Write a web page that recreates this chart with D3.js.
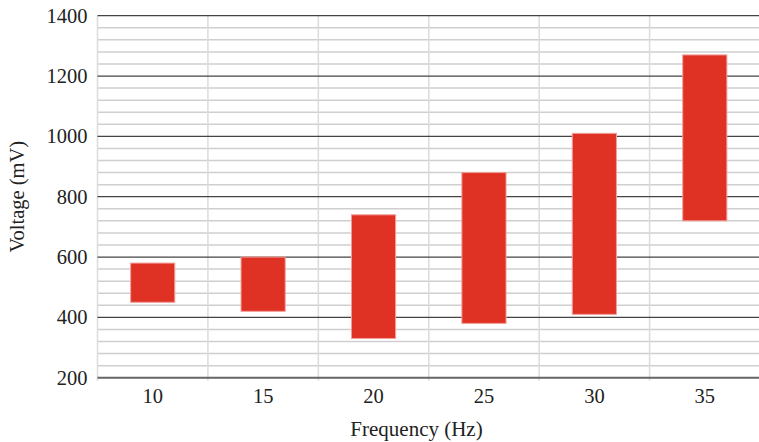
<!DOCTYPE html>
<html><head><meta charset="utf-8">
<script src="https://cdn.jsdelivr.net/npm/d3@7"></script>
<style>body{margin:0;background:#fff}svg{display:block}text{font-family:"Liberation Serif","Times New Roman",serif;fill:#222}</style>
</head><body>
<svg id="c" width="759" height="442" font-family="Liberation Serif"></svg>
<script>
const categories = ["10","15","20","25","30","35"];
const lowValues  = [450, 420, 330, 380, 410, 720];
const highValues = [580, 600, 740, 880, 1010, 1270];
const yTicks = [200,400,600,800,1000,1200,1400];

const W=759,H=442, m={l:97.5,r:-1,t:15.7,b:64.3};
const svg=d3.select("#c");
const x=d3.scaleBand().domain(categories).range([m.l,W-m.r]).paddingInner(0).paddingOuter(0);
const y=d3.scaleLinear().domain([200,1400]).range([H-m.b,m.t]);

// minor grid
const minor=d3.range(200,1401,40).filter(v=>v%200!==0);
svg.append("g").selectAll("line").data(minor).join("line")
 .attr("x1",m.l).attr("x2",W-m.r).attr("y1",d=>y(d)).attr("y2",d=>y(d))
 .attr("stroke","#cfcfcf").attr("stroke-width",1.5);
// vertical grid
const bounds=categories.map(c=>x(c)).concat([x(categories[categories.length-1])+x.bandwidth()]);
svg.append("g").selectAll("line").data(bounds).join("line")
 .attr("x1",d=>d).attr("x2",d=>d).attr("y1",y(1400)).attr("y2",y(200)+3)
 .attr("stroke","#dcdcdc").attr("stroke-width",1.5);
// major grid
svg.append("g").selectAll("line").data(yTicks).join("line")
 .attr("x1",m.l).attr("x2",W-m.r).attr("y1",d=>y(d)).attr("y2",d=>y(d))
 .attr("stroke",d=>d===200?"#666":"#444").attr("stroke-width",d=>d===200?2:1.3);

// bars
const bw=x.bandwidth()*0.4;
svg.append("g").selectAll("rect").data(categories).join("rect")
 .attr("x",(d)=>x(d)+x.bandwidth()/2-bw/2).attr("width",bw)
 .attr("y",(d,i)=>y(highValues[i])).attr("height",(d,i)=>y(lowValues[i])-y(highValues[i]))
 .attr("fill","#e03224").attr("stroke","#f2a09a").attr("stroke-width",1);

const FF='"Liberation Serif","Times New Roman",serif';
// y axis labels
const yAxis=d3.axisLeft(y).tickValues(yTicks).tickSize(0).tickPadding(10).tickFormat(d3.format("d"));
const ga=svg.append("g").attr("transform",`translate(${m.l},0)`).call(yAxis).attr("font-family",FF);
ga.select(".domain").remove();
ga.selectAll("text").style("font-size","20.5px").style("font-family",FF).attr("fill","#222");

// x axis labels
const xAxis=d3.axisBottom(x).tickSize(0).tickPadding(11);
const gx=svg.append("g").attr("transform",`translate(0,${y(200)})`).call(xAxis).attr("font-family",FF);
gx.select(".domain").remove();
gx.selectAll("text").style("font-size","20.5px").style("font-family",FF).attr("fill","#222");

svg.append("text").attr("x",416.5).attr("y",436).attr("text-anchor","middle")
 .style("font-family",FF).style("font-size","21px").text("Frequency (Hz)");
svg.append("text").attr("transform",`translate(24,${(y(200)+y(1400))/2}) rotate(-90)`)
 .attr("text-anchor","middle").style("font-family",FF).style("font-size","20.5px").text("Voltage (mV)");
</script>
</body></html>
